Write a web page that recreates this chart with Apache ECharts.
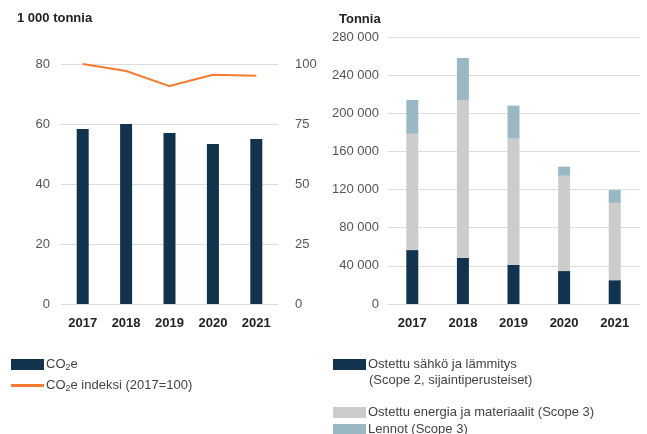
<!DOCTYPE html>
<html>
<head>
<meta charset="utf-8">
<script src="https://cdn.jsdelivr.net/npm/echarts@6/dist/echarts.min.js"></script>
<style>
  html, body { margin: 0; padding: 0; background: #fff; }
  #main { width: 647px; height: 434px; }
</style>
</head>
<body>
<div id="main"></div>
<script>
// vuodet
const years = ['2017', '2018', '2019', '2020', '2021'];

// vasen kuva: CO2e (1 000 t) ja indeksi
const co2e = [58.3, 60, 57, 53.3, 55];
const co2eIndex = [100, 97.1, 90.8, 95.5, 95.1];

// oikea kuva: päästöt tonneina
const scope2 = [56500, 48500, 41000, 34500, 25000];
const scope3Energy = [122000, 165500, 132500, 100000, 81000];
const scope3Flights = [35500, 44000, 34500, 9500, 13500];

const FONT = '"Liberation Sans", Arial, sans-serif';
const NAVY = '#12334d';
const ORANGE = '#f47b30';
const GREY = '#cccccc';
const LIGHTBLUE = '#9ab8c4';

const chart = echarts.init(document.getElementById('main'));

function thousands(v) {
  return String(v).replace(/\B(?=(\d{3})+(?!\d))/g, ' ');
}

const axisLabelStyle = { color: '#555', fontSize: 13, fontFamily: FONT };
const xLabelStyle = { color: '#222', fontSize: 13, fontWeight: 'bold', fontFamily: FONT, margin: 13 };
const splitLine = { show: true, lineStyle: { color: '#dddddd', width: 1 } };

// legendan rich-tekstit (alaindeksi 2)
const legendRich = {
  a: { fontSize: 13, color: '#444', fontFamily: FONT },
  s: { fontSize: 9, color: '#444', fontFamily: FONT, verticalAlign: 'bottom', padding: [6, 0, 0, 0] }
};
function co2Label(name) {
  if (name === 'CO2e') return '{a|CO}{s|2}{a|e}';
  if (name === 'CO2e indeksi (2017=100)') return '{a|CO}{s|2}{a|e indeksi (2017=100)}';
  return name;
}

function legendItem(name, left, top, extra) {
  return Object.assign({
    data: [name],
    left: left,
    top: top,
    icon: 'rect',
    itemWidth: 33,
    itemHeight: 11,
    padding: 0,
    selectedMode: false,
    textStyle: { color: '#444', fontSize: 13, fontFamily: FONT, padding: [0, 0, 0, -3] }
  }, extra || {});
}

const option = {
  animation: false,
  title: [
    { text: '1 000 tonnia', left: 12, top: 7, textStyle: { fontSize: 13, fontWeight: 'bold', color: '#222', fontFamily: FONT } },
    { text: 'Tonnia', left: 334, top: 8, textStyle: { fontSize: 13, fontWeight: 'bold', color: '#222', fontFamily: FONT } }
  ],
  grid: [
    { left: 61, right: 369, top: 64, bottom: 130 },
    { left: 387, right: 7, top: 37, bottom: 130 }
  ],
  xAxis: [
    { type: 'category', gridIndex: 0, data: years, axisLine: { show: false }, axisTick: { show: false }, axisLabel: xLabelStyle },
    { type: 'category', gridIndex: 1, data: years, axisLine: { show: false }, axisTick: { show: false }, axisLabel: xLabelStyle }
  ],
  yAxis: [
    { type: 'value', gridIndex: 0, min: 0, max: 80, interval: 20, axisLine: { show: false }, axisTick: { show: false },
      axisLabel: Object.assign({ margin: 11 }, axisLabelStyle), splitLine: splitLine },
    { type: 'value', gridIndex: 0, position: 'right', min: 0, max: 100, interval: 25, axisLine: { show: false }, axisTick: { show: false },
      axisLabel: Object.assign({ margin: 17 }, axisLabelStyle), splitLine: { show: false } },
    { type: 'value', gridIndex: 1, min: 0, max: 280000, interval: 40000, axisLine: { show: false }, axisTick: { show: false },
      axisLabel: Object.assign({ margin: 8, formatter: thousands }, axisLabelStyle), splitLine: splitLine }
  ],
  legend: [
    legendItem('CO2e', 11, 358, { formatter: co2Label, textStyle: { rich: legendRich, padding: [0, 0, 0, -3] } }),
    legendItem('CO2e indeksi (2017=100)', 11, 379, {
      formatter: co2Label,
      icon: 'path://M0,0 H33 V3 H0 Z',
      itemHeight: 3,
      itemStyle: { color: ORANGE },
      textStyle: { rich: legendRich, padding: [0, 0, 0, -3] }
    }),
    legendItem('Ostettu sähkö ja lämmitys', 333, 358),
    legendItem('Ostettu energia ja materiaalit (Scope 3)', 333, 406),
    legendItem('Lennot (Scope 3)', 333, 423)
  ],
  graphic: [
    { type: 'text', left: 369, top: 374, style: { text: '(Scope 2, sijaintiperusteiset)', fill: '#444', fontSize: 13, fontFamily: FONT } }
  ],
  series: [
    { name: 'CO2e', type: 'bar', xAxisIndex: 0, yAxisIndex: 0, data: co2e, barWidth: 12, itemStyle: { color: NAVY } },
    { name: 'CO2e indeksi (2017=100)', type: 'line', xAxisIndex: 0, yAxisIndex: 1, data: co2eIndex, symbol: 'none',
      lineStyle: { color: ORANGE, width: 2 }, itemStyle: { color: ORANGE } },
    { name: 'Ostettu sähkö ja lämmitys', type: 'bar', stack: 'oik', xAxisIndex: 1, yAxisIndex: 2, data: scope2, barWidth: 12, itemStyle: { color: NAVY } },
    { name: 'Ostettu energia ja materiaalit (Scope 3)', type: 'bar', stack: 'oik', xAxisIndex: 1, yAxisIndex: 2, data: scope3Energy, barWidth: 12, itemStyle: { color: GREY } },
    { name: 'Lennot (Scope 3)', type: 'bar', stack: 'oik', xAxisIndex: 1, yAxisIndex: 2, data: scope3Flights, barWidth: 12, itemStyle: { color: LIGHTBLUE } }
  ]
};

chart.setOption(option);
</script>
</body>
</html>
